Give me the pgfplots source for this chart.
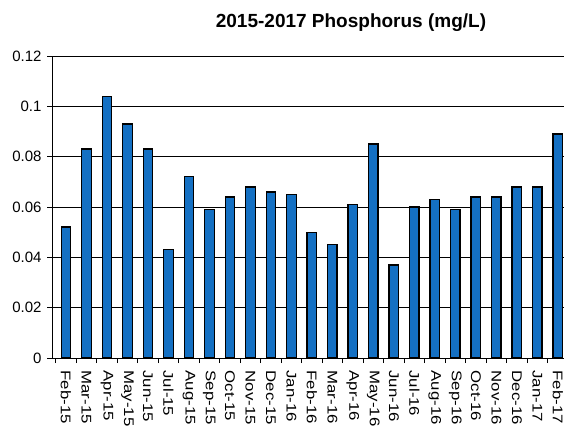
\documentclass[border=0pt]{standalone}
\usepackage{graphicx}
\usepackage{fontspec}
\setmainfont{Liberation Sans}
\usepackage{pgfplots}
\pgfplotsset{compat=1.18}
\definecolor{barblue}{RGB}{20,112,195}
\newcommand\xl[1]{\scalebox{1.2}[1]{#1}}
\begin{document}
\begin{tikzpicture}
\useasboundingbox (0,0) rectangle (564pt,431pt);
\node[font=\bfseries\fontsize{19}{19}\selectfont] at (351pt,408pt) {2015-2017 Phosphorus (mg/L)};
\begin{axis}[
  at={(52pt,73pt)}, anchor=south west,
  scale only axis, width=512pt, height=302pt,
  xmin=-0.68, xmax=24.3, ymin=0, ymax=0.12,
  axis x line*=bottom, axis y line*=left,
  axis line style={black, line width=0.9pt},
  ybar, bar width=9.5pt,
  xtick={0,...,24}, major x tick style={draw=none},
  minor xtick={-0.5,0.5,...,24.5},
  minor x tick style={black, line width=0.8pt},
  xticklabels={\xl{Feb-15},\xl{Mar-15},\xl{Apr-15},\xl{May-15},\xl{Jun-15},\xl{Jul-15},\xl{Aug-15},\xl{Sep-15},\xl{Oct-15},\xl{Nov-15},\xl{Dec-15},\xl{Jan-16},\xl{Feb-16},\xl{Mar-16},\xl{Apr-16},\xl{May-16},\xl{Jun-16},\xl{Jul-16},\xl{Aug-16},\xl{Sep-16},\xl{Oct-16},\xl{Nov-16},\xl{Dec-16},\xl{Jan-17},\xl{Feb-17}},
  x tick label style={rotate=-90, anchor=west, font=\fontsize{14}{14}\selectfont},
  ytick={0,0.02,0.04,0.06,0.08,0.1,0.12},
  yticklabels={0,0.02,0.04,0.06,0.08,0.1,0.12},
  y tick label style={font=\fontsize{15}{15}\selectfont},
  tick align=outside, major tick length=5pt, minor tick length=5pt,
  y tick style={black, line width=0.8pt},
  ymajorgrids, grid style={black, line width=0.8pt},
  xticklabel shift=4pt, yticklabel shift=2pt,
  clip=false,
]
\addplot[fill=barblue, draw=black, line width=1.3pt, bar shift=0pt] coordinates {
(0,0.052) (1,0.083) (2,0.104) (3,0.093) (4,0.083) (5,0.043) (6,0.072) (7,0.059)
(8,0.064) (9,0.068) (10,0.066) (11,0.065) (12,0.050) (13,0.045) (14,0.061)
(15,0.085) (16,0.037) (17,0.060) (18,0.063) (19,0.059) (20,0.064) (21,0.064)
(22,0.068) (23,0.068) (24,0.089)};
\end{axis}
\end{tikzpicture}
\end{document}
